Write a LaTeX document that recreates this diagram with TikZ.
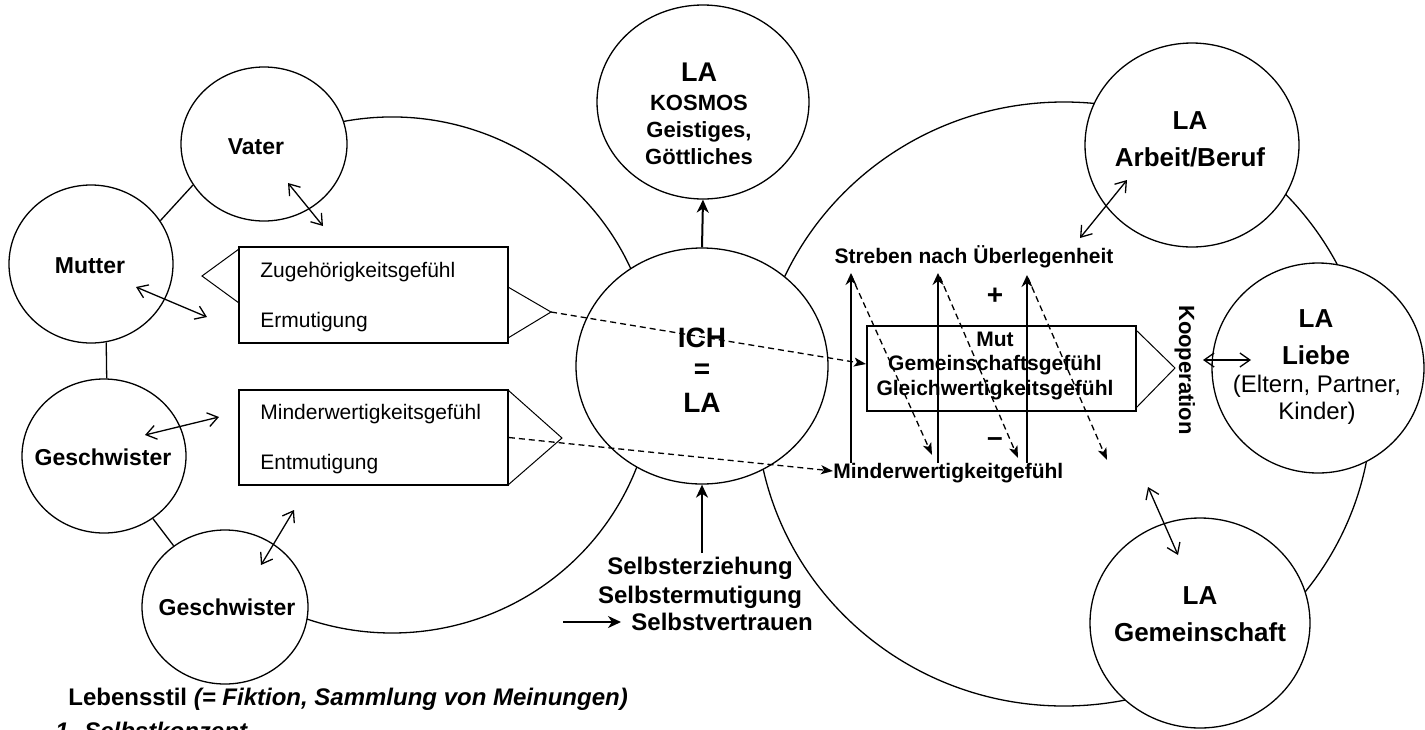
\documentclass[tikz,border=0pt]{standalone}
\usepackage{fontspec}
\setmainfont{Liberation Sans}
\usetikzlibrary{shapes.geometric,arrows.meta}
\begin{document}
\begin{tikzpicture}[x=0.5pt,y=-0.5pt,
  lw/.style={line width=0.65pt},
  circ/.style={draw,lw,ellipse,fill=white,inner sep=0pt},
  bigc/.style={draw,lw,ellipse,inner sep=0pt},
  boxs/.style={draw,line width=0.85pt,rectangle,inner sep=0pt},
  tri/.style={line width=0.5pt,line join=miter},
  dbl/.style={lw,>={Straight Barb[length=5pt,width=7pt]},<->},
  sarr/.style={lw,-{Stealth[length=6pt,width=5.5pt,inset=2pt]}},
  tarr/.style={line width=1pt,-{Stealth[length=6.5pt,width=6pt,inset=2pt]}},
  darr/.style={lw,dash pattern=on 3pt off 2pt,-{Stealth[length=6pt,width=4.5pt,inset=1.5pt]}},
  tA/.style={inner sep=0pt,text height=7.52pt,text depth=0pt,font=\fontsize{10.5}{12}\selectfont},
  tB/.style={inner sep=0pt,text height=7.52pt,text depth=0pt,font=\bfseries\fontsize{10.5}{12}\selectfont},
  tK/.style={inner sep=0pt,text height=7.88pt,text depth=0pt,font=\bfseries\fontsize{11}{13}\selectfont},
  tF/.style={inner sep=0pt,text height=8.23pt,text depth=0pt,font=\bfseries\fontsize{11.5}{13}\selectfont},
  tS/.style={inner sep=0pt,text height=8.59pt,text depth=0pt,font=\bfseries\fontsize{12}{14}\selectfont},
  tR/.style={inner sep=0pt,text height=8.59pt,text depth=0pt,font=\fontsize{12}{14}\selectfont},
  tL/.style={inner sep=0pt,text height=9.31pt,text depth=0pt,font=\bfseries\fontsize{13}{15}\selectfont},
  tM/.style={inner sep=0pt,text height=9.67pt,text depth=0pt,font=\bfseries\fontsize{13.5}{15}\selectfont},
  tX/.style={inner sep=0pt,text height=10.02pt,text depth=0pt,font=\bfseries\fontsize{14}{16}\selectfont},
  fX/.style={inner sep=0pt,font=\bfseries\fontsize{14}{16}\selectfont}
]
\useasboundingbox (0,0) rectangle (1425,729);
\clip (0,0) rectangle (1425,729);

% big background shapes
\node[bigc,minimum width=308pt,minimum height=302pt] (bigR) at (1064,404) {};
\draw[lw] (324.2,125.8) arc[start angle=-105,end angle=115,x radius=262,y radius=258];

% small circles
\node[circ,minimum width=83pt,minimum height=77pt] (Vater) at (264,144) {};
\node[circ,minimum width=82pt,minimum height=79pt] (Mutter) at (91,264) {};
\node[circ,minimum width=82pt,minimum height=77pt] (GeschL) at (104,456) {};
\node[circ,minimum width=83pt,minimum height=77pt] (GeschR) at (225,607) {};
\node[circ,minimum width=106pt,minimum height=97pt] (KOSMOS) at (703,102) {};
\node[circ,minimum width=126pt,minimum height=118pt] (ICH) at (702,366) {};
\node[circ,minimum width=107pt,minimum height=102pt] (Arbeit) at (1192,145) {};
\node[circ,minimum width=106pt,minimum height=105pt] (Liebe) at (1318,368) {};
\node[circ,minimum width=110pt,minimum height=105pt] (Gemeinschaft) at (1200,623) {};

% connecting lines between family circles
\draw[lw] (Vater.210) -- (Mutter.32);
\draw[lw] (Mutter.281) -- (GeschL.88);
\draw[lw] (GeschL.308) -- (GeschR.130);

% boxes
\node[boxs,minimum width=134.5pt,minimum height=48pt] (box1) at (373.5,295) {};
\node[boxs,minimum width=134.5pt,minimum height=47.5pt] (box2) at (373.5,437.5) {};
\node[boxs,minimum width=134.5pt,minimum height=42.5pt] (box3) at (1001.5,368.5) {};

% triangles
\draw[tri] (239,249) -- (202,276) -- (239,303);
\draw[tri] (508,287) -- (551,312) -- (508,338);
\draw[tri] (508,390) -- (562,438) -- (508,485);
\draw[tri] (1136,330) -- (1175,368) -- (1136,408);

% texts in circles
\node[tF] (tVater) at (256,146) {Vater};
\node[tF] (tMutter) at (90,265) {Mutter};
\node[tF] (tGL) at (103,457) {Geschwister};
\node[tF] (tGR) at (227,607) {Geschwister};
\node[tM] (k1) at (699,72) {LA};
\node[tK] (k2) at (699,103) {KOSMOS};
\node[tK] (k3) at (699,130) {Geistiges,};
\node[tK] (k4) at (699,157) {Göttliches};
\node[tX] (i1) at (702,337) {ICH};
\node[fX,anchor=base] (i2) at (702,378) {=};
\node[tX] (i3) at (702,402) {LA};
\node[tL] (a1) at (1190,120) {LA};
\node[tL] (a2) at (1190,157) {Arbeit/Beruf};
\node[tL] (l1) at (1316,318) {LA};
\node[tL] (l2) at (1316,355) {Liebe};
\node[tR] (l3) at (1317,384) {(Eltern, Partner,};
\node[tR] (l4) at (1317,411) {Kinder)};
\node[tL] (g1) at (1200,595) {LA};
\node[tL] (g2) at (1200,632) {Gemeinschaft};

% box texts
\node[tA,anchor=west] (b1a) at (260,270) {Zugehörigkeitsgefühl};
\node[tA,anchor=west] (b1b) at (260,320) {Ermutigung};
\node[tA,anchor=west] (b2a) at (260,412) {Minderwertigkeitsgefühl};
\node[tA,anchor=west] (b2b) at (260,462) {Entmutigung};
\node[tB] (b3a) at (995,339) {Mut};
\node[tB] (b3b) at (995,363) {Gemeinschaftsgefühl};
\node[tB] (b3c) at (995,388) {Gleichwertigkeitsgefühl};

% right region texts
\node[tB] (streben) at (974,256) {Streben nach Überlegenheit};
\node[tB,anchor=west] (minder) at (833,471) {Minderwertigkeitgefühl};
\node[tK,rotate=-90] (koop) at (1187,370) {Kooperation};
\node[fX,anchor=base] (plus) at (995,304) {+};
\node[fX,anchor=base] (minus) at (995,446) {–};

% bottom texts
\node[tS] (s1) at (700,566) {Selbsterziehung};
\node[tS] (s2) at (700,595) {Selbstermutigung};
\node[tS,anchor=west] (s3) at (631,622) {Selbstvertrauen};
\node[tS,anchor=west] (leb) at (68,697) {Lebensstil \textit{(= Fiktion, Sammlung von Meinungen)}};
\node[tS,anchor=west] (sk) at (55,731) {\textit{1. Selbstkonzept}};

% double arrows
\coordinate (v1) at (288,183); \coordinate (v2) at (323,226);
\draw[dbl] (v1) -- (v2);
\coordinate (mu1) at (136,287); \coordinate (mu2) at (207,317);
\draw[dbl] (mu1) -- (mu2);
\coordinate (gl1) at (145,435); \coordinate (gl2) at (219,417);
\draw[dbl] (gl1) -- (gl2);
\coordinate (gr1) at (261,565); \coordinate (gr2) at (294,510);
\draw[dbl] (gr1) -- (gr2);
\coordinate (ab1) at (1127,180); \coordinate (ab2) at (1080,238);
\draw[dbl] (ab1) -- (ab2);
\coordinate (li1) at (1203,360); \coordinate (li2) at (1251,360);
\draw[dbl] (li1) -- (li2);
\coordinate (ge1) at (1148,487); \coordinate (ge2) at (1178,555);
\draw[dbl] (ge1) -- (ge2);

% thick arrows
\draw[tarr] (ICH.north) -- (KOSMOS.south);
\coordinate (se) at (702,553);
\draw[tarr] (se) -- (ICH.south);
\coordinate (hs) at (563,622); \coordinate (he) at (621,622);
\draw[tarr] (hs) -- (he);

% vertical up arrows
\coordinate (u1a) at (851,463); \coordinate (u1b) at (851,273);
\coordinate (u2a) at (938,463); \coordinate (u2b) at (938,273);
\coordinate (u3a) at (1027,463); \coordinate (u3b) at (1027,275);
\draw[sarr] (u1a) -- (u1b);
\draw[sarr] (u2a) -- (u2b);
\draw[sarr] (u3a) -- (u3b);

% dashed diagonal arrows
\coordinate (d1a) at (851,275); \coordinate (d1b) at (932,455);
\coordinate (d2a) at (940,277); \coordinate (d2b) at (1018,458);
\coordinate (d3a) at (1028,278); \coordinate (d3b) at (1107,460);
\draw[darr] (d1a) -- (d1b);
\draw[darr] (d2a) -- (d2b);
\draw[darr] (d3a) -- (d3b);

% long dashed arrows
\coordinate (tip1) at (551,312); \coordinate (m1) at (866,364);
\draw[darr] (tip1) -- (m1);
\draw[darr] (box2.east) -- (minder.west);
\end{tikzpicture}
\end{document}
